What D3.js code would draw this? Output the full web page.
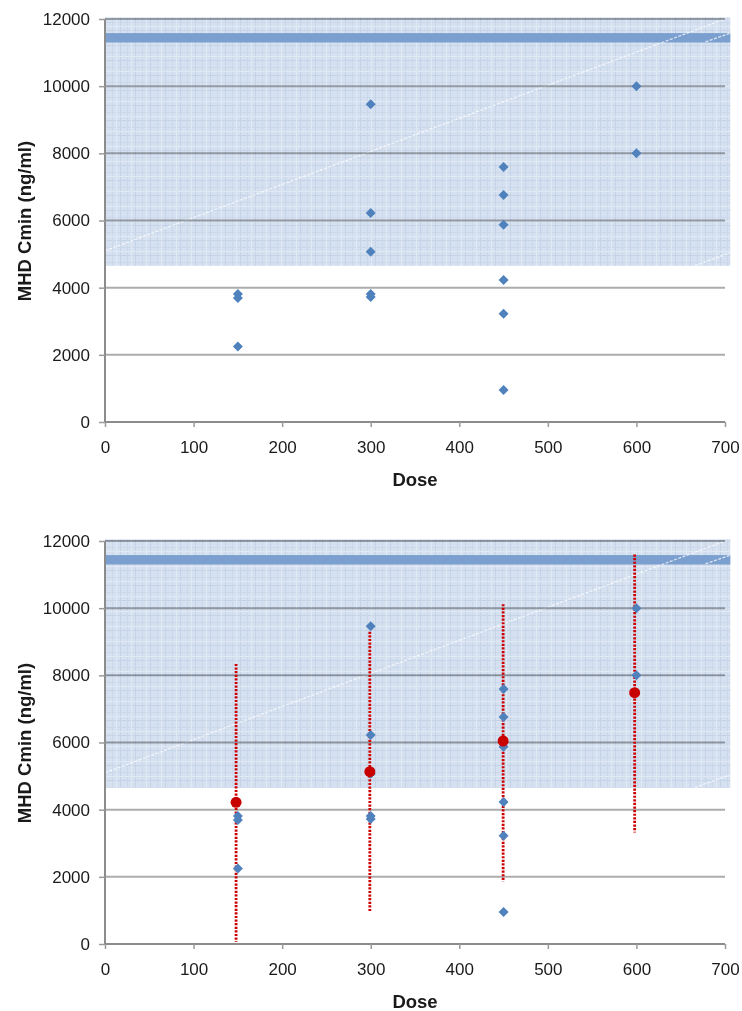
<!DOCTYPE html>
<html>
<head>
<meta charset="utf-8">
<script src="https://cdn.jsdelivr.net/npm/d3@7"></script>
<style>
  body { margin: 0; background: #fff; }
  text { font-family: "Liberation Sans", Arial, sans-serif; fill: #1a1a1a; }
</style>
</head>
<body>
<svg id="chart" width="742" height="1011"></svg>
<script>
// Individual trough concentrations per dose level
const pointDose = [150, 150, 150, 300, 300, 300, 300, 300, 450, 450, 450, 450, 450, 450, 600, 600];
const pointCmin = [3810, 3690, 2245, 9460, 6220, 5070, 3810, 3720, 7590, 6760, 5870, 4230, 3220, 950, 10000, 8000];

// Predicted mean and range per dose (lower panel)
const meanDose = [148, 299, 449.5, 598];
const meanCmin = [4220, 5130, 6045, 7485];
const rangeLow = [70, 960, 1860, 3320];
const rangeHigh = [8340, 9300, 10120, 11600];

// Reference ranges
const shadedRange = [4650, 12050];
const targetBand = [11300, 11580];

// Axis ticks
const xTicks = [0, 100, 200, 300, 400, 500, 600, 700];
const yTicks = [0, 2000, 4000, 6000, 8000, 10000, 12000];

const xTitle = "Dose";
const yTitle = "MHD Cmin (ng/ml)";

const svg = d3.select("#chart");
const defs = svg.append("defs");

// Graph-paper texture for the shaded range
const cell = 15;
const pat = defs.append("pattern")
  .attr("id", "paper").attr("patternUnits", "userSpaceOnUse")
  .attr("width", cell).attr("height", cell);
pat.append("rect").attr("width", cell).attr("height", cell).attr("fill", "#d5e1f0");
pat.append("line").attr("x1", 0.5).attr("x2", 0.5).attr("y1", 0).attr("y2", cell).attr("stroke", "#c5d3e7").attr("stroke-width", 1);
pat.append("line").attr("y1", 0.5).attr("y2", 0.5).attr("x1", 0).attr("x2", cell).attr("stroke", "#c5d3e7").attr("stroke-width", 1);
pat.append("line").attr("x1", 7.5).attr("x2", 7.5).attr("y1", 0).attr("y2", cell).attr("stroke", "#cbd8ea").attr("stroke-width", 1);
pat.append("line").attr("y1", 7.5).attr("y2", 7.5).attr("x1", 0).attr("x2", cell).attr("stroke", "#cbd8ea").attr("stroke-width", 1);
pat.append("line").attr("x1", 11.5).attr("x2", 11.5).attr("y1", 0).attr("y2", cell).attr("stroke", "#e1e9f5").attr("stroke-width", 1);
pat.append("line").attr("y1", 11.5).attr("y2", 11.5).attr("x1", 0).attr("x2", cell).attr("stroke", "#e1e9f5").attr("stroke-width", 1);

defs.append("filter").attr("id", "soft")
  .attr("x", "-50%").attr("y", "-50%").attr("width", "200%").attr("height", "200%")
  .append("feGaussianBlur").attr("stdDeviation", 0.7);

function drawPanel(top, withSummary, id) {
  const x = d3.scaleLinear().domain([0, 700]).range([105, 725]);
  const y = d3.scaleLinear().domain([0, 12000]).range([top + 403, top]);
  const g = svg.append("g");

  // Shaded reference range with target band
  const shadeX0 = x(0), shadeX1 = x(706);
  defs.append("clipPath").attr("id", "clip" + id)
    .append("rect")
    .attr("x", shadeX0).attr("y", y(shadedRange[1]))
    .attr("width", shadeX1 - shadeX0)
    .attr("height", y(shadedRange[0]) - y(shadedRange[1]));

  g.append("rect")
    .attr("x", shadeX0).attr("y", y(shadedRange[1]))
    .attr("width", shadeX1 - shadeX0)
    .attr("height", y(shadedRange[0]) - y(shadedRange[1]))
    .attr("fill", "url(#paper)");

  g.append("rect")
    .attr("x", shadeX0).attr("y", y(targetBand[1]))
    .attr("width", shadeX1 - shadeX0)
    .attr("height", y(targetBand[0]) - y(targetBand[1]))
    .attr("fill", "#7b9fcf");

  // Faint light streaks across the shaded range
  const streaks = [
    [[0, 5100], [700, 12000]],
    [[678, 11320], [706, 11580]],
    [[666, 4660], [706, 5040]]
  ];
  const sg = g.append("g").attr("clip-path", `url(#clip${id})`);
  streaks.forEach(s => {
    sg.append("line")
      .attr("x1", x(s[0][0])).attr("y1", y(s[0][1]))
      .attr("x2", x(s[1][0])).attr("y2", y(s[1][1]))
      .attr("stroke", "#ffffff").attr("stroke-opacity", 0.75)
      .attr("stroke-width", 1.2).attr("stroke-dasharray", "3,1.5");
  });

  // Horizontal gridlines
  g.append("g").selectAll("line").data(yTicks.filter(v => v > 0)).join("line")
    .attr("x1", x(0)).attr("x2", x(700))
    .attr("y1", d => y(d)).attr("y2", d => y(d))
    .attr("stroke", "#acacac").attr("stroke-width", 2)
    .style("mix-blend-mode", "multiply");

  // Axes
  const yAxis = d3.axisLeft(y).tickValues(yTicks).tickSize(6).tickPadding(9).tickFormat(d3.format("d"));
  const xAxis = d3.axisBottom(x).tickValues(xTicks).tickSize(5).tickPadding(14).tickFormat(d3.format("d"));

  const ya = g.append("g").attr("transform", `translate(${x(0)},0)`).call(yAxis);
  const xa = g.append("g").attr("transform", `translate(0,${y(0)})`).call(xAxis);
  [ya, xa].forEach(a => {
    a.select(".domain").attr("stroke", "#8c8c8c").attr("stroke-width", 2);
    a.selectAll(".tick line").attr("stroke", "#9a9a9a").attr("stroke-width", 1.5);
    a.selectAll(".tick text")
      .style("font-family", '"Liberation Sans", Arial, sans-serif')
      .style("font-size", "17px").attr("fill", "#111");
  });
  ya.select(".domain").attr("d", `M0,${y(0)}V${y(12000)}`);
  xa.select(".domain").attr("d", `M${x(0)},0H${x(700)}`);

  // Axis titles
  g.append("text")
    .attr("x", (x(0) + x(700)) / 2).attr("y", y(0) + 64)
    .attr("text-anchor", "middle")
    .style("font-size", "18.5px").style("font-weight", "bold")
    .text(xTitle);
  g.append("text")
    .attr("transform", `translate(31,${top + 202}) rotate(-90)`)
    .attr("text-anchor", "middle")
    .style("font-size", "18.5px").style("font-weight", "bold")
    .text(yTitle);

  // Dotted range bars for predicted values
  if (withSummary) {
    g.append("g").selectAll("line").data(meanDose).join("line")
      .attr("x1", d => x(d)).attr("x2", d => x(d))
      .attr("y1", (d, i) => y(rangeHigh[i])).attr("y2", (d, i) => y(rangeLow[i]))
      .attr("stroke", "#cc0000").attr("stroke-width", 2.8)
      .attr("stroke-dasharray", "2.2,1.4");
  }

  // Observed points
  const diamond = d3.symbol().type(d3.symbolSquare).size(50);
  g.append("g").selectAll("path").data(pointDose).join("path")
    .attr("d", diamond)
    .attr("transform", (d, i) => `translate(${x(d)},${y(pointCmin[i])}) rotate(45)`)
    .attr("fill", "#4f81bd");

  // Predicted means
  if (withSummary) {
    g.append("g").selectAll("circle").data(meanDose).join("circle")
      .attr("cx", d => x(d)).attr("cy", (d, i) => y(meanCmin[i]))
      .attr("r", 5.5)
      .attr("fill", "#c80000")
      .attr("filter", "url(#soft)");
  }
}

drawPanel(19, false, "a");
drawPanel(541, true, "b");
</script>
</body>
</html>
